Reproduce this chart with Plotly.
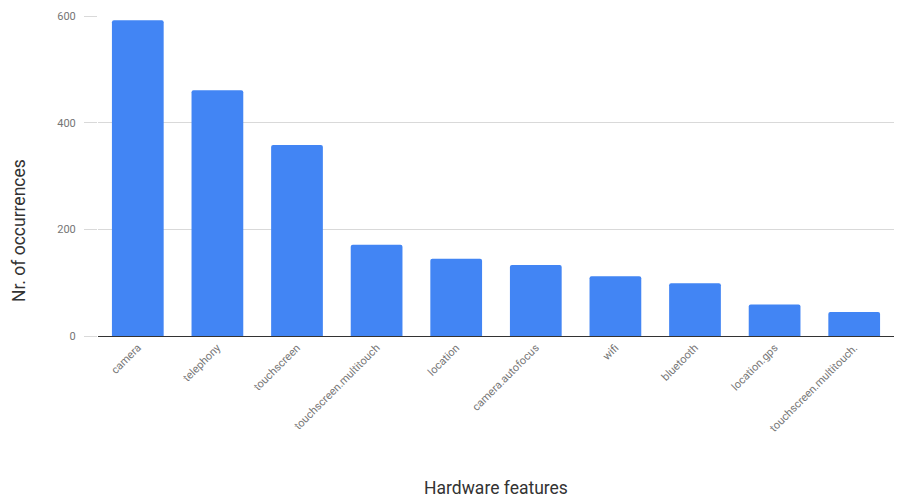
import plotly.graph_objects as go

categories = ["camera", "telephony", "touchscreen", "touchscreen.multitouch", "location",
              "camera.autofocus", "wifi", "bluetooth", "location.gps", "touchscreen.multitouch."]
values = [592, 461, 358, 171, 145, 133, 112, 99, 59, 45]
y_ticks = [0, 200, 400, 600]

fig = go.Figure(go.Bar(x=categories, y=values, marker_color="#4285F4",
                       marker_line_width=0))
fig.update_layout(
    width=900, height=500,
    margin=dict(l=98, r=6, t=16, b=164),
    plot_bgcolor="white", paper_bgcolor="white",
    bargap=0.35, barcornerradius=2,
    font=dict(family="Roboto, Arial, sans-serif"),
    showlegend=False,
)
fig.update_xaxes(
    tickangle=-45, tickfont=dict(size=11, color="#757575"),
    showline=True, linecolor="#333", linewidth=1, ticks="",
    title=dict(text="Hardware features", font=dict(size=17.5, color="#333"), standoff=48),
)
fig.update_yaxes(
    range=[0, 600], tickvals=y_ticks, tickfont=dict(size=11, color="#757575"),
    showgrid=True, gridcolor="#d9d9d9", gridwidth=1, zeroline=False,
    ticks="outside", ticklen=13, tickcolor="#d9d9d9", tickwidth=1,
    ticklabelstandoff=6,
)
fig.add_annotation(
    text="Nr. of occurrences", textangle=-90,
    xref="paper", yref="paper", x=(19 - 98) / 796, y=(336 - 231) / 320,
    xanchor="center", yanchor="middle", showarrow=False,
    font=dict(size=17.5, color="#333"),
)
fig.write_html("out.html")
